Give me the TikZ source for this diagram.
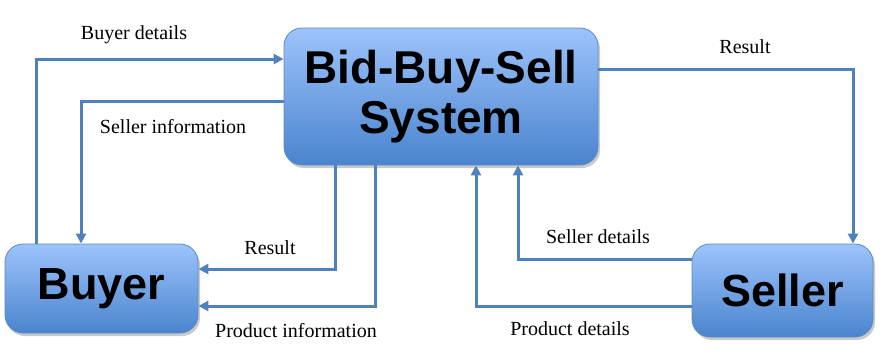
\documentclass[tikz,border=0pt]{standalone}
\usepackage{fontspec}
\setmainfont{Liberation Serif}
\newfontfamily\boxfont{Liberation Sans}
\usetikzlibrary{arrows.meta,shadows}
\definecolor{flow}{HTML}{4F81BD}
\definecolor{boxtop}{HTML}{9DC3FB}
\definecolor{boxbot}{HTML}{4A84CE}
\definecolor{boxedge}{HTML}{5A8AC6}
\begin{document}
\begin{tikzpicture}[x=1pt,y=-1pt,
  block/.style={draw=boxedge, line width=0.8pt, rounded corners=18pt,
    top color=boxtop, bottom color=boxbot, inner sep=0pt,
    drop shadow={shadow xshift=2pt, shadow yshift=-3pt, opacity=0.35, fill=black!60},
    font=\boxfont\bfseries, align=center},
  conn/.style={draw=flow, line width=3pt,
    -{Triangle[length=10pt,width=10pt]}},
  lbl/.style={font=\fontsize{20}{24}\selectfont, inner sep=0pt}]
  \useasboundingbox (0,0) rectangle (883,362);

  % the three parties
  \node[block, minimum width=314pt, minimum height=137pt,
        font=\boxfont\bfseries\fontsize{46}{50}\selectfont]
       (sys) at (441,96.5) {Bid-Buy-Sell\\System};
  \node[block, minimum width=193pt, minimum height=89pt,
        font=\boxfont\bfseries\fontsize{45}{50}\selectfont]
       (buyer) at (101.5,288.5) {Buyer};
  \node[block, minimum width=181pt, minimum height=93pt,
        font=\boxfont\bfseries\fontsize{45}{50}\selectfont]
       (seller) at (782.5,290.5) {Seller};

  % buyer side
  \draw[conn] (buyer.north -| 36,0) |- (sys.west |- 0,59);
  \draw[conn] (sys.west |- 0,101) -| (buyer.north -| 81,0);
  \draw[conn] (sys.south -| 335,0) |- (buyer.east |- 0,269);
  \draw[conn] (sys.south -| 375,0) |- (buyer.east |- 0,306);

  % seller side
  \draw[conn] (sys.east |- 0,69) -| (seller.north -| 853,0);
  \draw[conn] (seller.west |- 0,259) -| (sys.south -| 518,0);
  \draw[conn] (seller.west |- 0,306) -| (sys.south -| 476,0);

  % flow labels
  \node[lbl] (l1) at (134,35) {Buyer details};
  \node[lbl] (l2) at (173,127) {Seller information};
  \node[lbl] (l3) at (270,248) {Result};
  \node[lbl] (l4) at (296,331) {Product information};
  \node[lbl] (l5) at (745,47) {Result};
  \node[lbl] (l6) at (598,237) {Seller details};
  \node[lbl] (l7) at (570,329) {Product details};
\end{tikzpicture}
\end{document}
